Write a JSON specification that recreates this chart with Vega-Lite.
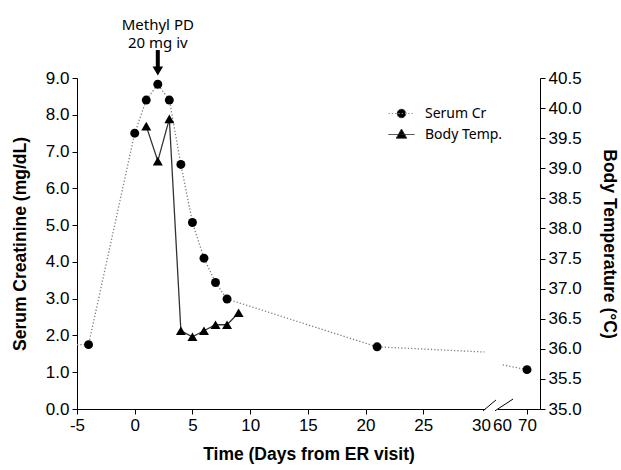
{
  "$schema": "https://vega.github.io/schema/vega-lite/v6.json",
  "width": 463,
  "height": 331,
  "autosize": {"type": "none"},
  "padding": {"left": 77, "top": 78, "right": 81, "bottom": 61},
  "background": "white",
  "config": {
    "view": {"stroke": null},
    "axis": {
      "labelFont": "Liberation Sans", "labelFontSize": 17, "labelColor": "#000", "labelOverlap": false,
      "titleFont": "Liberation Sans", "titleFontSize": 17.5, "titleFontWeight": "bold", "titleColor": "#000",
      "domainColor": "#000", "tickColor": "#000", "grid": false, "tickSize": 5, "labelPadding": 3
    },
    "legend": {
      "orient": "none", "legendX": 311, "legendY": 22, "padding": 0,
      "symbolSize": 676, "labelFont": "Noto Sans", "labelFontSize": 14, "labelColor": "#000",
      "labelOffset": 10, "rowPadding": -1, "symbolStrokeWidth": 1
    }
  },
  "datasets": {
    "cr": [
      {"day": -5, "cr": 1.75, "measured": false, "seg": 1, "series": "Serum Cr"},
      {"day": -4, "cr": 1.75, "measured": true, "seg": 1, "series": "Serum Cr"},
      {"day": 0, "cr": 7.5, "measured": true, "seg": 1, "series": "Serum Cr"},
      {"day": 1, "cr": 8.4, "measured": true, "seg": 1, "series": "Serum Cr"},
      {"day": 2, "cr": 8.83, "measured": true, "seg": 1, "series": "Serum Cr"},
      {"day": 3, "cr": 8.4, "measured": true, "seg": 1, "series": "Serum Cr"},
      {"day": 4, "cr": 6.65, "measured": true, "seg": 1, "series": "Serum Cr"},
      {"day": 5, "cr": 5.07, "measured": true, "seg": 1, "series": "Serum Cr"},
      {"day": 6, "cr": 4.1, "measured": true, "seg": 1, "series": "Serum Cr"},
      {"day": 7, "cr": 3.44, "measured": true, "seg": 1, "series": "Serum Cr"},
      {"day": 8, "cr": 2.99, "measured": true, "seg": 1, "series": "Serum Cr"},
      {"day": 21, "cr": 1.69, "measured": true, "seg": 1, "series": "Serum Cr"},
      {"day": 35, "cr": 1.55, "measured": false, "seg": 1, "series": "Serum Cr"},
      {"day": 60.3, "cr": 1.2, "measured": false, "seg": 2, "series": "Serum Cr"},
      {"day": 70, "cr": 1.07, "measured": true, "seg": 2, "series": "Serum Cr"}
    ],
    "temp": [
      {"day": 1, "temp": 39.7, "series": "Body Temp."},
      {"day": 2, "temp": 39.12, "series": "Body Temp."},
      {"day": 3, "temp": 39.82, "series": "Body Temp."},
      {"day": 4, "temp": 36.3, "series": "Body Temp."},
      {"day": 5, "temp": 36.2, "series": "Body Temp."},
      {"day": 6, "temp": 36.3, "series": "Body Temp."},
      {"day": 7, "temp": 36.4, "series": "Body Temp."},
      {"day": 8, "temp": 36.4, "series": "Body Temp."},
      {"day": 9, "temp": 36.6, "series": "Body Temp."}
    ],
    "note": [{"text": ["Methyl PD", "20 mg iv"]}]
  },
  "layer": [
    {
      "data": {"name": "cr"},
      "layer": [
        {
          "data": {"name": "note"},
          "mark": {"type": "rule", "color": "white", "strokeWidth": 3},
          "encoding": {
            "x": {"datum": 36.3, "type": "quantitative", "scale": {"domain": [-5, 30, 60, 75.2], "range": [0, 404, 425, 463], "nice": false, "zero": false}},
            "x2": {"datum": 54.3},
            "y": {"datum": 0, "type": "quantitative", "scale": {"domain": [0, 9], "nice": false, "zero": false}}
          }
        },
        {
          "mark": {"type": "line", "color": "#808080", "strokeWidth": 1.3, "strokeDash": [1.3, 2]},
          "encoding": {
            "x": {
              "field": "day", "type": "quantitative",
              "scale": {"domain": [-5, 30, 60, 75.2], "range": [0, 404, 425, 463], "nice": false, "zero": false},
              "axis": {
                "title": "Time (Days from ER visit)",
                "values": [-5, 0, 5, 10, 15, 20, 25, 30, 60, 70],
                "tickCount": 30,
                "labelExpr": "datum.value < 0 ? '-' + abs(datum.value) : '' + datum.value",
                "labelFlush": false,
                "labelOverlap": false,
                "titlePadding": 12,
                "tickOpacity": {"condition": {"test": "datum.value == 30 || datum.value == 60", "value": 0}, "value": 1}
              }
            },
            "y": {
              "field": "cr", "type": "quantitative",
              "scale": {"domain": [0, 9], "nice": false, "zero": false},
              "axis": {
                "title": "Serum Creatinine (mg/dL)",
                "values": [0, 1, 2, 3, 4, 5, 6, 7, 8, 9],
                "tickCount": 30,
                "format": ".1f",
                "labelOverlap": false,
                "titlePadding": 16
              }
            },
            "detail": {"field": "seg"}
          }
        },
        {
          "transform": [{"filter": "datum.measured"}],
          "mark": {"type": "point", "shape": "circle", "filled": true, "color": "black", "size": 80, "opacity": 1},
          "encoding": {
            "x": {"field": "day", "type": "quantitative", "scale": {"domain": [-5, 30, 60, 75.2], "range": [0, 404, 425, 463], "nice": false, "zero": false}},
            "y": {"field": "cr", "type": "quantitative", "scale": {"domain": [0, 9], "nice": false, "zero": false}}
          }
        },
        {
          "data": {"name": "note"},
          "transform": [{"filter": "false"}],
          "mark": {"type": "point", "filled": true, "opacity": 1},
          "encoding": {
            "shape": {
              "field": "series", "type": "nominal", "title": null,
              "scale": {"domain": ["Serum Cr", "Body Temp."], "range": ["M-1,0L1,0M0.35,0A0.35,0.35,0,1,1,-0.35,0A0.35,0.35,0,1,1,0.35,0Z", "M-1,0L1,0M0,-0.42L0.4,0.28L-0.4,0.28Z"]}
            },
            "fill": {
              "field": "series", "type": "nominal", "title": null,
              "scale": {"domain": ["Serum Cr", "Body Temp."], "range": ["black", "black"]}
            },
            "stroke": {
              "field": "series", "type": "nominal", "title": null,
              "scale": {"domain": ["Serum Cr", "Body Temp."], "range": ["#909090", "#222222"]}
            },
            "strokeDash": {
              "field": "series", "type": "nominal", "title": null,
              "scale": {"domain": ["Serum Cr", "Body Temp."], "range": [[1.3, 2], [1, 0]]}
            }
          }
        },
        {
          "data": {"name": "note"},
          "mark": {"type": "rule", "color": "black", "strokeWidth": 4},
          "encoding": {
            "x": {"datum": 2, "type": "quantitative", "scale": {"domain": [-5, 30, 60, 75.2], "range": [0, 404, 425, 463], "nice": false, "zero": false}},
            "y": {"datum": 9.76, "type": "quantitative", "scale": {"domain": [0, 9], "nice": false, "zero": false}},
            "y2": {"datum": 9.2}
          }
        },
        {
          "data": {"name": "note"},
          "mark": {"type": "point", "shape": "triangle-down", "filled": true, "color": "black", "size": 110, "opacity": 1},
          "encoding": {
            "x": {"datum": 2, "type": "quantitative", "scale": {"domain": [-5, 30, 60, 75.2], "range": [0, 404, 425, 463], "nice": false, "zero": false}},
            "y": {"datum": 9.19, "type": "quantitative", "scale": {"domain": [0, 9], "nice": false, "zero": false}}
          }
        },
        {
          "data": {"name": "note"},
          "mark": {"type": "text", "font": "Noto Sans", "fontSize": 15, "lineHeight": 18, "baseline": "middle", "align": "center", "color": "#000"},
          "encoding": {
            "x": {"datum": 2, "type": "quantitative", "scale": {"domain": [-5, 30, 60, 75.2], "range": [0, 404, 425, 463], "nice": false, "zero": false}},
            "y": {"datum": 10.44, "type": "quantitative", "scale": {"domain": [0, 9], "nice": false, "zero": false}},
            "text": {"field": "text"}
          }
        },
        {
          "data": {"name": "note"},
          "mark": {"type": "rule", "color": "black", "strokeWidth": 1},
          "encoding": {
            "x": {"datum": 32.9, "type": "quantitative", "scale": {"domain": [-5, 30, 60, 75.2], "range": [0, 404, 425, 463], "nice": false, "zero": false}},
            "x2": {"datum": 51.4},
            "y": {"datum": -0.05, "type": "quantitative", "scale": {"domain": [0, 9], "nice": false, "zero": false}},
            "y2": {"datum": 0.245}
          }
        },
        {
          "data": {"name": "note"},
          "mark": {"type": "rule", "color": "black", "strokeWidth": 1},
          "encoding": {
            "x": {"datum": 50, "type": "quantitative", "scale": {"domain": [-5, 30, 60, 75.2], "range": [0, 404, 425, 463], "nice": false, "zero": false}},
            "x2": {"datum": 64.4},
            "y": {"datum": -0.05, "type": "quantitative", "scale": {"domain": [0, 9], "nice": false, "zero": false}},
            "y2": {"datum": 0.27}
          }
        }
      ]
    },
    {
      "data": {"name": "temp"},
      "layer": [
        {
          "mark": {"type": "line", "color": "#333333", "strokeWidth": 1.3},
          "encoding": {
            "x": {"field": "day", "type": "quantitative", "scale": {"domain": [-5, 30, 60, 75.2], "range": [0, 404, 425, 463], "nice": false, "zero": false}},
            "y": {
              "field": "temp", "type": "quantitative",
              "scale": {"domain": [35, 40.5], "nice": false, "zero": false},
              "axis": {
                "orient": "right",
                "title": "Body Temperature (°C)",
                "values": [35, 35.5, 36, 36.5, 37, 37.5, 38, 38.5, 39, 39.5, 40, 40.5],
                "tickCount": 30,
                "format": ".1f",
                "labelOverlap": false,
                "titlePadding": 18
              }
            }
          }
        },
        {
          "mark": {"type": "point", "shape": "triangle-up", "filled": true, "color": "black", "size": 100, "opacity": 1},
          "encoding": {
            "x": {"field": "day", "type": "quantitative", "scale": {"domain": [-5, 30, 60, 75.2], "range": [0, 404, 425, 463], "nice": false, "zero": false}},
            "y": {"field": "temp", "type": "quantitative", "scale": {"domain": [35, 40.5], "nice": false, "zero": false}}
          }
        }
      ]
    }
  ],
  "resolve": {"scale": {"y": "independent"}, "axis": {"y": "independent"}}
}
